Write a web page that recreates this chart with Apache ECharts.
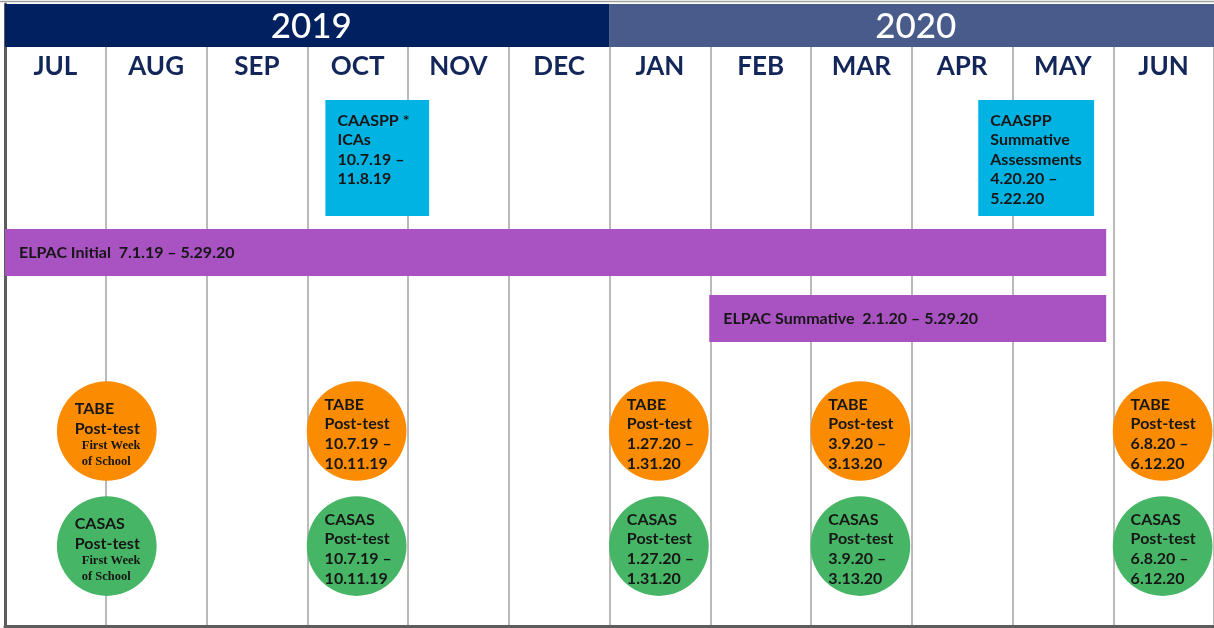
<!DOCTYPE html>
<html>
<head>
<meta charset="utf-8">
<script src="https://cdn.jsdelivr.net/npm/echarts@6/dist/echarts.min.js"></script>
<style>
  html, body { margin: 0; padding: 0; background: #ffffff; }
  #chart { width: 1214px; height: 628px; }
</style>
</head>
<body>
<div id="chart"></div>
<script>
// ---- Data (x values are in months counted from 1 July 2019) ----
const months = ['JUL', 'AUG', 'SEP', 'OCT', 'NOV', 'DEC', 'JAN', 'FEB', 'MAR', 'APR', 'MAY', 'JUN'];
const years = ['2019', '2020'];
const yearStart = [0, 6];
const yearEnd = [6, 12];

const boxLabels = ['CAASPP *\nICAs\n10.7.19 –\n11.8.19', 'CAASPP\nSummative\nAssessments\n4.20.20 –\n5.22.20'];
const boxStart = [3.18, 9.66];
const boxEnd = [4.21, 10.81];

const bandLabels = ['ELPAC Initial  7.1.19 – 5.29.20', 'ELPAC Summative  2.1.20 – 5.29.20'];
const bandStart = [0, 6.99];
const bandEnd = [10.93, 10.93];

const postTests = ['TABE', 'CASAS'];
const postTestAt = [1.01, 3.49, 6.49, 8.49, 11.49];
const postTestDates = ['First Week\nof School', '10.7.19 –\n10.11.19', '1.27.20 –\n1.31.20', '3.9.20 –\n3.13.20', '6.8.20 –\n6.12.20'];

// ---- Layout (y axis 0..100 from top to bottom) ----
const headerRow = [0, 6.9];
const boxRow = [15.43, 34.08];
const bandRows = [[36.17, 43.73], [46.78, 54.34]];
const circleRows = [68.65, 87.14];

const yearColors = ['#002060', '#485b8b'];
const boxColor = '#00b3e3';
const bandColor = '#a952c1';
const circleColors = ['#fb8b00', '#46b566'];
const FONT = 'Lato, "Open Sans", sans-serif';

const chart = echarts.init(document.getElementById('chart'));

const circleData = [];
postTests.forEach((t, ti) => postTestAt.forEach((x, i) => circleData.push([x, circleRows[ti], ti, i])));

chart.setOption({
  animation: false,
  grid: { left: 5, width: 1212, top: 4, height: 622 },
  graphic: [{ type: 'line', shape: { x1: 0, y1: 1.5, x2: 1214, y2: 1.5 }, style: { stroke: '#a0a0a0', lineWidth: 1.5 } }],
  xAxis: [
    {
      type: 'value', min: 0, max: 12, interval: 1, position: 'bottom',
      axisLine: { show: true, onZero: false, lineStyle: { color: '#5c5c5c', width: 3 } },
      axisTick: { show: false }, axisLabel: { show: false },
      splitLine: { show: true, lineStyle: { color: '#bababa', width: 2 } }
    },
    {
      type: 'category', data: months, position: 'top', boundaryGap: true,
      axisLine: { show: false }, axisTick: { show: false }, splitLine: { show: false },
      axisLabel: { inside: true, margin: 50, color: '#13265a', fontFamily: FONT, fontWeight: 'bold', fontSize: 26 }
    }
  ],
  yAxis: {
    type: 'value', min: 0, max: 100, inverse: true,
    axisLine: { show: true, onZero: false, lineStyle: { color: '#5c5c5c', width: 3 } },
    axisTick: { show: false }, axisLabel: { show: false }, splitLine: { show: false }
  },
  series: [
    {
      type: 'custom', name: 'years', xAxisIndex: 0, z: 5,
      data: years.map((y, i) => [yearStart[i], yearEnd[i]]),
      renderItem: (params, api) => {
        const i = params.dataIndex;
        const p0 = api.coord([api.value(0), headerRow[0]]);
        const p1 = api.coord([api.value(1), headerRow[1]]);
        return {
          type: 'group', children: [
            { type: 'rect', shape: { x: p0[0], y: p0[1], width: p1[0] - p0[0], height: p1[1] - p0[1] }, style: { fill: yearColors[i] } },
            { type: 'text', style: { text: years[i], x: (p0[0] + p1[0]) / 2 + 4, y: (p0[1] + p1[1]) / 2 + 1, align: 'center', verticalAlign: 'middle', fill: '#ffffff', font: '500 35px ' + FONT } }
          ]
        };
      }
    },
    {
      type: 'custom', name: 'ELPAC', xAxisIndex: 0, z: 3,
      data: bandLabels.map((l, i) => [bandStart[i], bandEnd[i]]),
      renderItem: (params, api) => {
        const i = params.dataIndex;
        const p0 = api.coord([api.value(0), bandRows[i][0]]);
        const p1 = api.coord([api.value(1), bandRows[i][1]]);
        return {
          type: 'group', children: [
            { type: 'rect', shape: { x: p0[0], y: p0[1], width: p1[0] - p0[0], height: p1[1] - p0[1] }, style: { fill: bandColor } },
            { type: 'text', style: { text: bandLabels[i], x: p0[0] + 14, y: (p0[1] + p1[1]) / 2, align: 'left', verticalAlign: 'middle', fill: '#161616', font: 'bold 16px ' + FONT } }
          ]
        };
      }
    },
    {
      type: 'custom', name: 'CAASPP', xAxisIndex: 0, z: 3,
      data: boxLabels.map((l, i) => [boxStart[i], boxEnd[i]]),
      renderItem: (params, api) => {
        const i = params.dataIndex;
        const p0 = api.coord([api.value(0), boxRow[0]]);
        const p1 = api.coord([api.value(1), boxRow[1]]);
        return {
          type: 'group', children: [
            { type: 'rect', shape: { x: p0[0], y: p0[1], width: p1[0] - p0[0], height: p1[1] - p0[1] }, style: { fill: boxColor } },
            { type: 'text', style: { text: boxLabels[i], x: p0[0] + 12, y: p0[1] + 11, align: 'left', verticalAlign: 'top', lineHeight: 19.5, fill: '#161616', font: 'bold 16px ' + FONT } }
          ]
        };
      }
    },
    {
      type: 'custom', name: 'Post-tests', xAxisIndex: 0, z: 3,
      data: circleData,
      renderItem: (params, api) => {
        const ti = api.value(2), di = api.value(3);
        const c = api.coord([api.value(0), api.value(1)]);
        const r = api.size([1, 0])[0] * 0.495;
        const note = postTestDates[di];
        const isDate = /\d/.test(note);
        const text = '{b|' + postTests[ti] + '}\n{b|Post-test}\n' +
          note.split('\n').map(s => (isDate ? '{b|' : '{s|') + s + '}').join('\n');
        return {
          type: 'group', children: [
            { type: 'circle', shape: { cx: c[0], cy: c[1], r: r }, style: { fill: circleColors[ti] } },
            {
              type: 'text', style: {
                text: text, x: c[0] - 32, y: c[1] + 3, align: 'left', verticalAlign: 'middle',
                rich: {
                  b: { font: 'bold 16px ' + FONT, lineHeight: 19.7, fill: '#161616' },
                  s: { font: 'bold 12.5px "Liberation Serif", "DejaVu Serif", serif', lineHeight: 15.5, fill: '#161616', padding: [0, 0, 0, 7] }
                }
              }
            }
          ]
        };
      }
    }
  ]
});
</script>
</body>
</html>
